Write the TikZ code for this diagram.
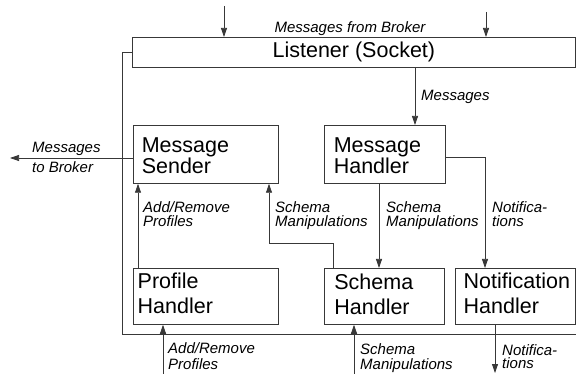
\documentclass[tikz,border=0pt]{standalone}
\usepackage{fontspec}
\setmainfont{Liberation Sans}
\usetikzlibrary{arrows.meta}

% two stacked lines, baseline of the box = baseline of the first line
\newcommand\twolines[3]{\vtop{\baselineskip=#1\lineskiplimit=-100pt\hbox{#2}\hbox{#3}}}
% left-aligned content in a box of fixed width
\newcommand\leftin[2]{\hbox to #1{#2\hss}}

\tikzset{
  ink/.style={draw=black!78, line width=0.75pt},
  box/.style={ink, rectangle, inner ysep=0pt, anchor=north west,
    font=\fontsize{21.5}{21.5}\selectfont},
  lbl/.style={inner sep=0pt, anchor=base west,
    font=\itshape\fontsize{15}{15}\selectfont},
  arr/.style={ink, -{Triangle[length=9pt,width=6pt]}}
}

\begin{document}
\begin{tikzpicture}[x=1pt, y=-1pt]
\useasboundingbox (0,0) rectangle (576,374);

% components
\node[box, minimum width=443pt, minimum height=30pt, inner xsep=0pt]
  (listener) at (132,37) {Listener (Socket)};
\node[box, inner xsep=8.4pt, text height=27pt, text depth=31pt]
  (sender) at (133,125) {\leftin{128.2pt}{\twolines{21.5pt}{Message}{Sender}}};
\node[box, inner xsep=9.4pt, text height=27pt, text depth=31pt]
  (mhandler) at (324,125) {\leftin{102.2pt}{\twolines{21.5pt}{Message}{Handler}}};
\node[box, inner xsep=4.3pt, text height=20pt, text depth=36pt]
  (profile) at (133,268) {\leftin{136.4pt}{\twolines{25pt}{Profile}{Handler}}};
\node[box, inner xsep=10pt, text height=21pt, text depth=35pt]
  (schema) at (324,268) {\leftin{100pt}{\twolines{25pt}{Schema}{Handler}}};
\node[box, inner xsep=8.3pt, text height=20pt, text depth=36pt]
  (notif) at (455,268) {\leftin{103.4pt}{\twolines{25pt}{Notification}{Handler}}};

% incoming messages from the broker
\coordinate (src1) at (224,6);
\coordinate (src2) at (486,12);
\draw[arr] (src1) -- (src1 |- listener.north);
\draw[arr] (src2) -- (src2 |- listener.north);
\node[lbl, anchor=base] (lfrom) at (350,33) {Messages from Broker};

% listener to message handler
\draw[arr] (415,0 |- listener.south) -- (415,0 |- mhandler.north);
\node[lbl] (lmsg) at (421,101) {Messages};

% loop from the listener round the handlers
\coordinate (loopend) at (576,334);
\draw[ink] (listener.west) -- (122,0 |- listener.west) -- (122,334) -- (loopend);

% sender out to the broker
\coordinate (broker) at (10,158);
\draw[arr] (sender.west |- broker) -- (broker);
\node[lbl] (lto) at (32,153) {\twolines{19.5pt}{Messages}{to Broker}};

% internal flows
\draw[arr] (138,0 |- profile.north) -- (138,0 |- sender.south);
\node[lbl] (lprof) at (143,213) {\twolines{14pt}{Add/Remove}{Profiles}};

\draw[arr] (333,0 |- schema.north) -- (333,243) -- (269,243) -- (269,0 |- sender.south);
\node[lbl] (lsch1) at (275,213) {\twolines{14pt}{Schema}{Manipulations}};

\draw[arr] (379,0 |- mhandler.south) -- (379,0 |- schema.north);
\node[lbl] (lsch2) at (386,213) {\twolines{14pt}{Schema}{Manipulations}};

\draw[arr] (mhandler.east |- 0,157) -- (485,157) -- (485,0 |- notif.north);
\node[lbl] (lnot1) at (492,213) {\twolines{14pt}{Notifica-}{tions}};

% external inputs and output at the bottom
\coordinate (pin) at (163,374);
\draw[arr] (pin) -- (pin |- profile.south);
\node[lbl] (lprof2) at (168,353) {\twolines{16.5pt}{Add/Remove}{Profiles}};

\coordinate (sin) at (354,374);
\draw[arr] (sin) -- (sin |- schema.south);
\node[lbl] (lsch3) at (360,354) {\twolines{15.5pt}{Schema}{Manipulations}};

\coordinate (nout) at (495,373);
\draw[arr] (nout |- notif.south) -- (nout);
\node[lbl] (lnot2) at (502,355) {\twolines{13.5pt}{Notifica-}{tions}};
\end{tikzpicture}
\end{document}
